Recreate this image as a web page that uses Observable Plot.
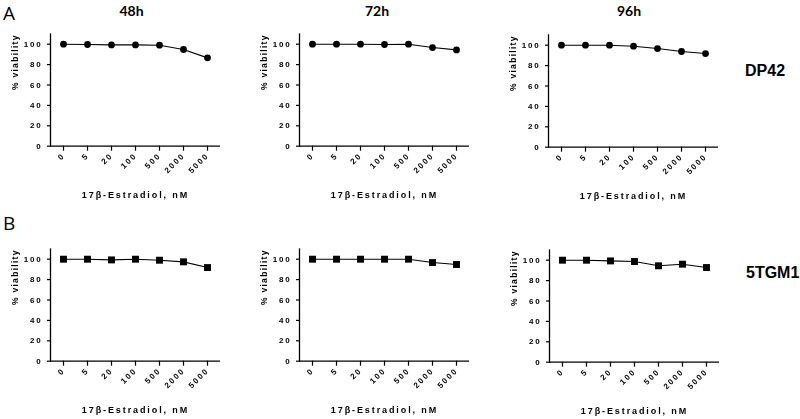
<!DOCTYPE html>
<html>
<head>
<meta charset="utf-8">
<script src="https://cdn.jsdelivr.net/npm/d3@7"></script>
<script src="https://cdn.jsdelivr.net/npm/@observablehq/plot@0.6"></script>
<style>
  html, body { margin: 0; padding: 0; background: #fff; }
  #wrap { position: relative; width: 800px; height: 419px; overflow: hidden; background: #fff; }
  .panel { position: absolute; }
  .panel svg { filter: grayscale(1); overflow: visible; }
  .lab { position: absolute; color: #000; white-space: nowrap; line-height: 1; }
  .letter { font-family: "Open Sans", sans-serif; font-size: 19px; font-weight: 400; }
  .time { font-family: Lato, "Open Sans", sans-serif; font-size: 14px; font-weight: 700; transform: translateX(-50%); }
  .cell { font-family: "Liberation Sans", Arial, sans-serif; font-size: 16px; font-weight: 700; transform: translateY(-50%); }
  .panel svg text { font-family: "Liberation Sans", Arial, sans-serif; font-weight: 700; }
  .panel g[aria-label="x-axis tick label"] text,
  .panel g[aria-label="y-axis tick label"] text { letter-spacing: 1.8px; }
</style>
</head>
<body>
<div id="wrap"></div>
<script>
const doses = ["0", "5", "20", "100", "500", "2000", "5000"];
const times = ["48h", "72h", "96h"];
const cellLines = ["DP42", "5TGM1"];
const rowLetters = ["A", "B"];
const yTicks = [0, 20, 40, 60, 80, 100];
const xTitle = "17β-Estradiol, nM";
const yTitle = "% viability";

const dp42_48h = [100, 99.7, 99.3, 99.3, 99.0, 94.8, 86.6];
const dp42_72h = [100, 100, 100, 99.7, 100, 96.7, 94.4];
const dp42_96h = [100, 100, 100, 99.0, 96.7, 93.8, 91.8];
const tgm1_48h = [100, 100, 99.3, 100, 99.0, 97.4, 91.8];
const tgm1_72h = [100, 100, 100, 100, 100, 96.7, 94.8];
const tgm1_96h = [100, 100, 99.3, 98.7, 94.5, 96.1, 92.8];

const rows = [
  {series: [dp42_48h, dp42_72h, dp42_96h], symbol: "circle", r: 3.4},
  {series: [tgm1_48h, tgm1_72h, tgm1_96h], symbol: "square", r: 3.9}
];

const wrap = document.getElementById("wrap");
const panelLeft = [[0, 249, 497.5], [0, 249, 499.3]];
const panelTop = [[0, 0, 1.2], [215.3, 215.3, 215.8]];

function panel(values, symbol, r) {
  const data = doses.map((d, i) => ({dose: d, v: values[i]}));
  const svg = Plot.plot({
    width: 240,
    height: 215,
    marginLeft: 50,
    marginRight: 20,
    marginTop: 33.5,
    marginBottom: 69.3,
    style: {background: "transparent", color: "#000"},
    x: {type: "point", domain: doses, padding: 0.5},
    y: {domain: [0, 110]},
    marks: [
      Plot.frame({anchor: "left", stroke: "#000", strokeWidth: 1.3}),
      Plot.ruleY([0], {stroke: "#000", strokeWidth: 1.3}),
      Plot.axisY({ticks: yTicks, tickSize: 3, tickPadding: 5, fontSize: 8, label: null, strokeWidth: 1.2}),
      Plot.axisX({tickSize: 5, tickPadding: 3, tickRotate: -45, fontSize: 8, label: null, strokeWidth: 1.2}),
      Plot.lineY(data, {x: "dose", y: "v", stroke: "#000", strokeWidth: 1.1}),
      Plot.dot(data, {x: "dose", y: "v", symbol, r, fill: "#000", stroke: "none"}),
      Plot.text([xTitle], {frameAnchor: "bottom", dy: 52, fontSize: 9, fill: "#000"}),
      Plot.text([yTitle], {frameAnchor: "left", dx: -35, rotate: -90, fontSize: 8.5, fill: "#000"})
    ]
  });
  svg.querySelectorAll('g[aria-label="text"] text').forEach(t => {
    t.style.letterSpacing = t.textContent === xTitle ? "1.9px" : "1.3px";
  });
  return svg;
}

rows.forEach((row, ri) => {
  row.series.forEach((vals, ci) => {
    const div = document.createElement("div");
    div.className = "panel";
    div.style.left = panelLeft[ri][ci] + "px";
    div.style.top = panelTop[ri][ci] + "px";
    div.appendChild(panel(vals, row.symbol, row.r));
    wrap.appendChild(div);
  });
});

function label(text, cls, x, y) {
  const d = document.createElement("div");
  d.className = "lab " + cls;
  d.textContent = text;
  d.style.left = x + "px";
  d.style.top = y + "px";
  wrap.appendChild(d);
}
label(rowLetters[0], "letter", 3, 4);
label(rowLetters[1], "letter", 3, 214);
const timeX = [131.5, 377, 629];
times.forEach((t, i) => label(t, "time", timeX[i], 4.3));
label(cellLines[0], "cell", 745, 71);
label(cellLines[1], "cell", 746, 273);
</script>
</body>
</html>
